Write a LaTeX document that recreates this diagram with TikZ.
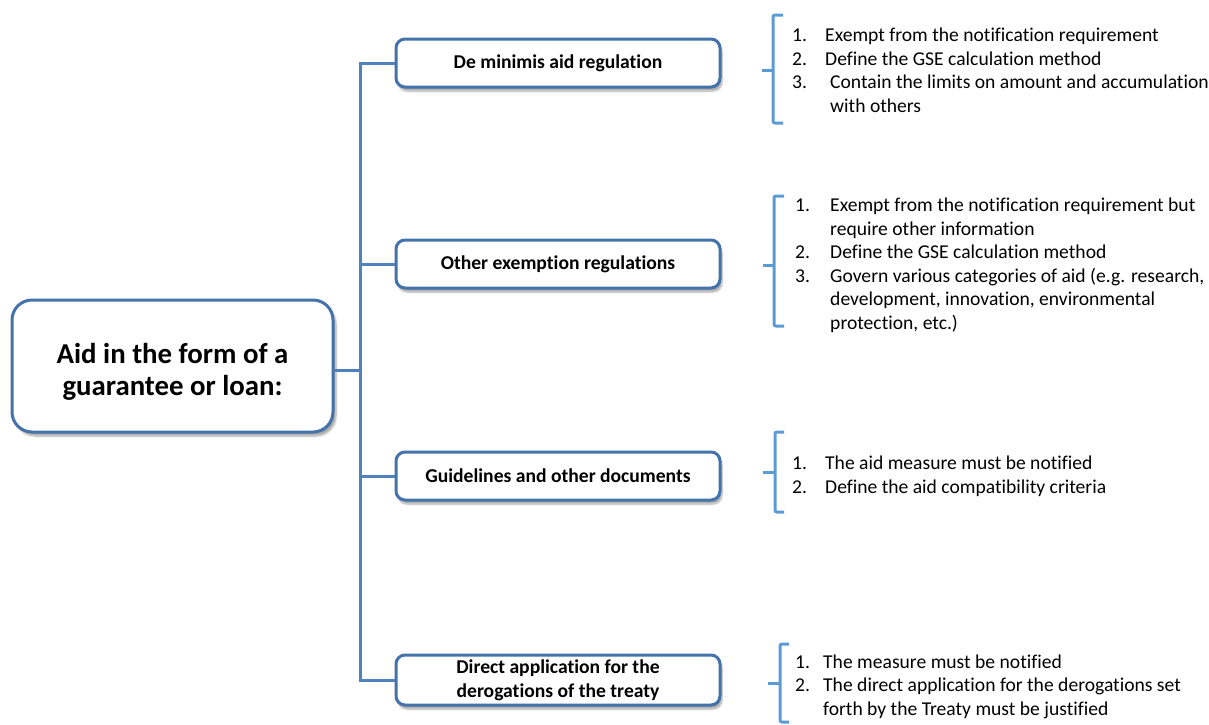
\documentclass[tikz,border=0pt]{standalone}
\usepackage{fontspec}
\setmainfont{Carlito}[Ligatures={NoCommon}]
\usetikzlibrary{shadows.blur}
\definecolor{boxblue}{RGB}{68,114,170}
\definecolor{lineblue}{RGB}{79,129,189}
\definecolor{brblue}{RGB}{91,155,213}
\tikzset{
  mainbox/.style={draw=boxblue, line width=3pt, rounded corners=20pt, fill=white,
    minimum width=321pt, minimum height=132pt, inner sep=0pt,
    blur shadow={shadow xshift=3pt, shadow yshift=-4pt, shadow blur steps=6, shadow opacity=35}},
  maintext/.style={align=center, inner sep=0pt, font=\fontsize{28.8}{32}\selectfont\bfseries},
  catbox/.style={draw=boxblue, line width=3pt, rounded corners=9pt, fill=white,
    minimum width=324pt, minimum height=48pt, align=center, inner sep=0pt,
    font=\fontsize{19.6}{24}\selectfont\bfseries,
    blur shadow={shadow xshift=2pt, shadow yshift=-4pt, shadow blur steps=6, shadow opacity=35}},
  conn/.style={draw=lineblue, line width=3pt},
  brk/.style={draw=brblue, line width=3pt, rounded corners=2pt},
  listtext/.style={anchor=base west, inner sep=0pt, font=\fontsize{19.6}{23.5}\selectfont}
}
\begin{document}
\begin{tikzpicture}[x=1pt,y=-1pt]
\useasboundingbox (0,0) rectangle (1209,724);
% boxes
\node[mainbox] (main) at (172.5,366) {};
\node[maintext] (mainlbl) at (172.5,372) {Aid in the form of a\\guarantee or loan:};
\node[catbox] (b1) at (558,63) {De minimis aid regulation};
\node[catbox] (b2) at (558,264) {Other exemption regulations};
\node[catbox] (b3) at (558,476) {Guidelines and other documents};
\node[catbox, minimum height=50pt] (b4) at (558,680) {Direct application for the\\derogations of the treaty};
% trunk connectors
\coordinate (t1) at (360,63);
\coordinate (t4) at (360,680);
\coordinate (t2) at (360,264);
\coordinate (t3) at (360,476);
\coordinate (tm) at (360,370);
\draw[conn] (b1.west) -- (t1) -- (t4) -- (b4.west);
\draw[conn] (t2) -- (b2.west);
\draw[conn] (t3) -- (b3.west);
\draw[conn] (main.east |- tm) -- (tm);
% brackets
\draw[brk] (783,15) -- (773,15) -- (773,123) -- (783,123);
\draw[brk] (762,70) -- (773,70);
\draw[brk] (784,196) -- (774,196) -- (774,326) -- (784,326);
\draw[brk] (763,265) -- (774,265);
\draw[brk] (784,432) -- (775,432) -- (775,512) -- (784,512);
\draw[brk] (763,472) -- (775,472);
\draw[brk] (789,644) -- (780,644) -- (780,722) -- (789,722);
\draw[brk] (768,683) -- (780,683);
% lists
\node[listtext] (l1) at (792,41.5) {\begin{tabular}[t]{@{}p{33pt}@{}l@{}}
1.&Exempt from the notification requirement\\
2.&Define the GSE calculation method\\
3.&\hspace*{5pt}Contain the limits on amount and accumulation\\
&\hspace*{5pt}with others
\end{tabular}};
\node[listtext] (l2) at (795,211.5) {\begin{tabular}[t]{@{}p{35pt}@{}l@{}}
1.&Exempt from the notification requirement but\\
&require other information\\
2.&Define the GSE calculation method\\
3.&Govern various categories of aid (e.g. research,\\
&development, innovation, environmental\\
&protection, etc.)
\end{tabular}};
\node[listtext] (l3) at (792,469.5) {\begin{tabular}[t]{@{}p{33pt}@{}l@{}}
1.&The aid measure must be notified\\
2.&Define the aid compatibility criteria
\end{tabular}};
\node[listtext] (l4) at (795,668) {\begin{tabular}[t]{@{}p{28pt}@{}l@{}}
1.&The measure must be notified\\
2.&The direct application for the derogations set\\
&forth by the Treaty must be justified
\end{tabular}};
\end{tikzpicture}
\end{document}
